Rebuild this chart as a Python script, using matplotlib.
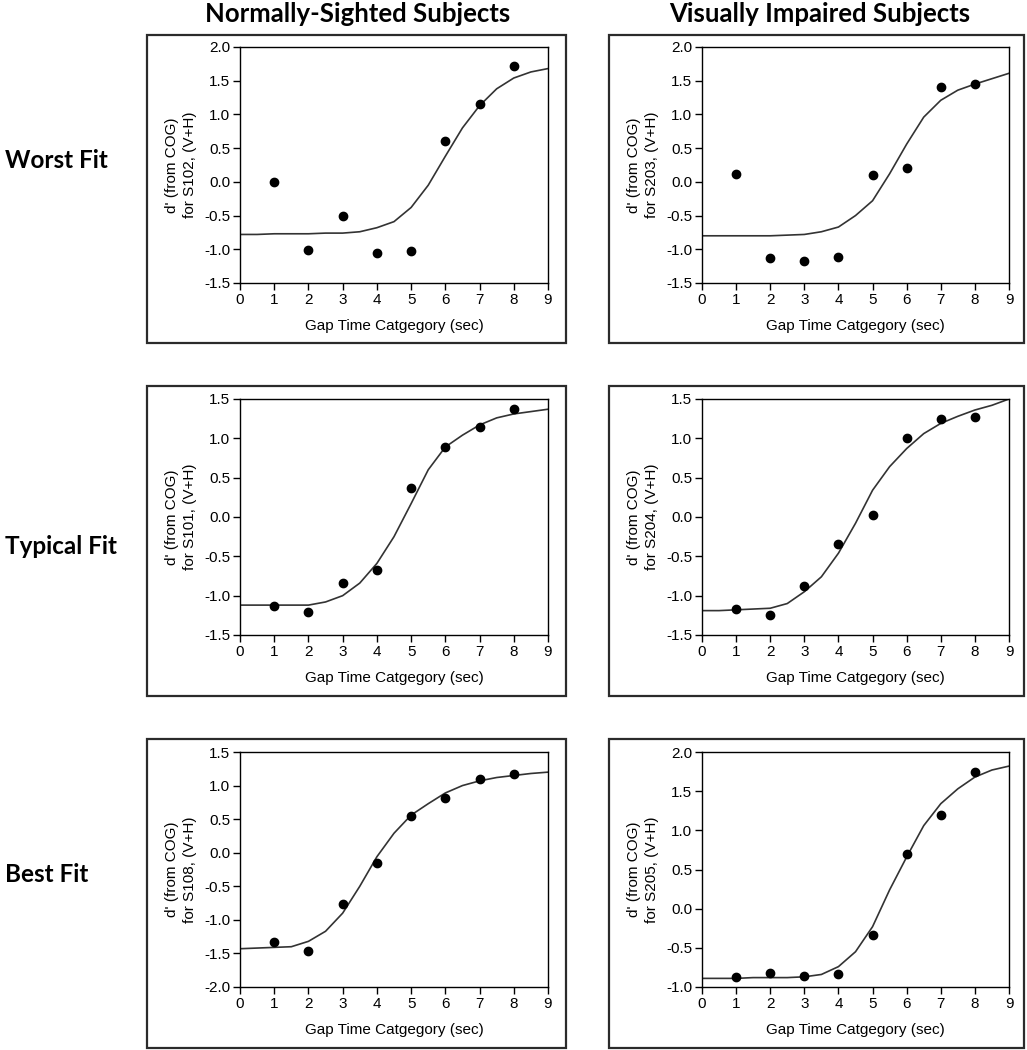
import numpy as np
import matplotlib
matplotlib.use("Agg")
import matplotlib.pyplot as plt
from matplotlib.patches import Rectangle

plt.rcParams['font.family'] = ['Liberation Sans', 'DejaVu Sans']
plt.rcParams['axes.unicode_minus'] = False

# gap time categories (sec)
gap_x = [1, 2, 3, 4, 5, 6, 7, 8]
curve_x = [0, 0.5, 1, 1.5, 2, 2.5, 3, 3.5, 4, 4.5, 5, 5.5, 6, 6.5, 7, 7.5, 8, 8.5, 9]

column_titles = ["Normally-Sighted Subjects", "Visually Impaired Subjects"]
row_titles = ["Worst Fit", "Typical Fit", "Best Fit"]

# measured d' values
s102_pts = [0.00, -1.01, -0.50, -1.05, -1.03, 0.60, 1.15, 1.72]
s203_pts = [0.12, -1.13, -1.17, -1.11, 0.10, 0.20, 1.40, 1.45]
s101_pts = [-1.13, -1.21, -0.84, -0.67, 0.37, 0.89, 1.14, 1.37]
s204_pts = [-1.17, -1.25, -0.88, -0.34, 0.02, 1.00, 1.25, 1.27]
s108_pts = [-1.33, -1.47, -0.76, -0.15, 0.55, 0.81, 1.10, 1.17]
s205_pts = [-0.87, -0.82, -0.86, -0.84, -0.33, 0.70, 1.20, 1.74]

# fitted curves, read at half-second steps
s102_fit = [-0.78, -0.78, -0.77, -0.77, -0.77, -0.76, -0.76, -0.74, -0.68, -0.59,
            -0.38, -0.05, 0.38, 0.80, 1.13, 1.38, 1.54, 1.63, 1.68]
s203_fit = [-0.80, -0.80, -0.80, -0.80, -0.80, -0.79, -0.78, -0.74, -0.67, -0.50,
            -0.28, 0.12, 0.56, 0.96, 1.21, 1.36, 1.45, 1.53, 1.61]
s101_fit = [-1.12, -1.12, -1.12, -1.12, -1.12, -1.08, -1.00, -0.84, -0.59, -0.25,
            0.17, 0.60, 0.89, 1.04, 1.17, 1.26, 1.31, 1.34, 1.37]
s204_fit = [-1.19, -1.19, -1.18, -1.17, -1.16, -1.10, -0.95, -0.76, -0.46, -0.08,
            0.34, 0.64, 0.87, 1.06, 1.19, 1.28, 1.36, 1.42, 1.50]
s108_fit = [-1.43, -1.42, -1.41, -1.40, -1.32, -1.17, -0.90, -0.50, -0.06, 0.29,
            0.56, 0.73, 0.89, 1.00, 1.07, 1.12, 1.15, 1.18, 1.20]
s205_fit = [-0.89, -0.89, -0.89, -0.88, -0.88, -0.88, -0.87, -0.84, -0.74, -0.55,
            -0.23, 0.24, 0.66, 1.06, 1.34, 1.53, 1.68, 1.77, 1.82]

subjects = [["S102", "S203"], ["S101", "S204"], ["S108", "S205"]]
points = [[s102_pts, s203_pts], [s101_pts, s204_pts], [s108_pts, s205_pts]]
fits = [[s102_fit, s203_fit], [s101_fit, s204_fit], [s108_fit, s205_fit]]
y_ranges = [[(-1.5, 2.0), (-1.5, 2.0)], [(-1.5, 1.5), (-1.5, 1.5)], [(-2.0, 1.5), (-1.0, 2.0)]]

W, H = 1027, 1050
fig = plt.figure(figsize=(W / 100, H / 100), dpi=100)

# layout in pixels
ax_left = [240, 702]
ax_right = [548, 1009]
ax_top = [47, 399, 752]
ax_bot = [283, 635, 987]
box_x = [(147, 566), (609, 1024)]
box_y = [(35, 343), (386, 696), (739, 1048)]
row_label_y = [160, 547, 875]
header_x = [358, 820]

for r in range(3):
    for c in range(2):
        x0, x1 = box_x[c]
        y0, y1 = box_y[r]
        fig.patches.append(Rectangle((x0 / W, 1 - y1 / H), (x1 - x0) / W, (y1 - y0) / H,
                                     transform=fig.transFigure, fill=False,
                                     edgecolor='#2b2b2b', linewidth=1.6))
        ax = fig.add_axes([ax_left[c] / W, 1 - ax_bot[r] / H,
                           (ax_right[c] - ax_left[c]) / W, (ax_bot[r] - ax_top[r]) / H])
        ax.plot(curve_x, fits[r][c], color='#333333', linewidth=1.2)
        ax.plot(gap_x, points[r][c], 'o', color='black', markersize=6)
        lo, hi = y_ranges[r][c]
        ax.set_xlim(0, 9)
        ax.set_ylim(lo, hi)
        ax.set_xticks(range(10))
        ax.set_yticks(np.arange(lo, hi + 0.01, 0.5))
        ax.yaxis.set_major_formatter(matplotlib.ticker.FormatStrFormatter('%.1f'))
        ax.tick_params(direction='out', length=5, width=1, labelsize=11, pad=2)
        for s in ax.spines.values():
            s.set_linewidth(1.0)
        ax.set_xlabel("Gap Time Catgegory (sec)", fontsize=11, labelpad=9)
        ax.set_ylabel("d' (from COG)\nfor " + subjects[r][c] + ", (V+H)", fontsize=11,
                      labelpad=5, linespacing=1.35)

for c in range(2):
    fig.text(header_x[c] / W, 1 - 14 / H, column_titles[c], ha='center', va='center',
             fontsize=18.5, fontweight='bold', family=['Lato', 'DejaVu Sans'])
for r in range(3):
    fig.text(5 / W, 1 - row_label_y[r] / H, row_titles[r], ha='left', va='center',
             fontsize=17.5, fontweight='bold', family=['Lato', 'DejaVu Sans'])

fig.savefig("out.png", dpi=100)
